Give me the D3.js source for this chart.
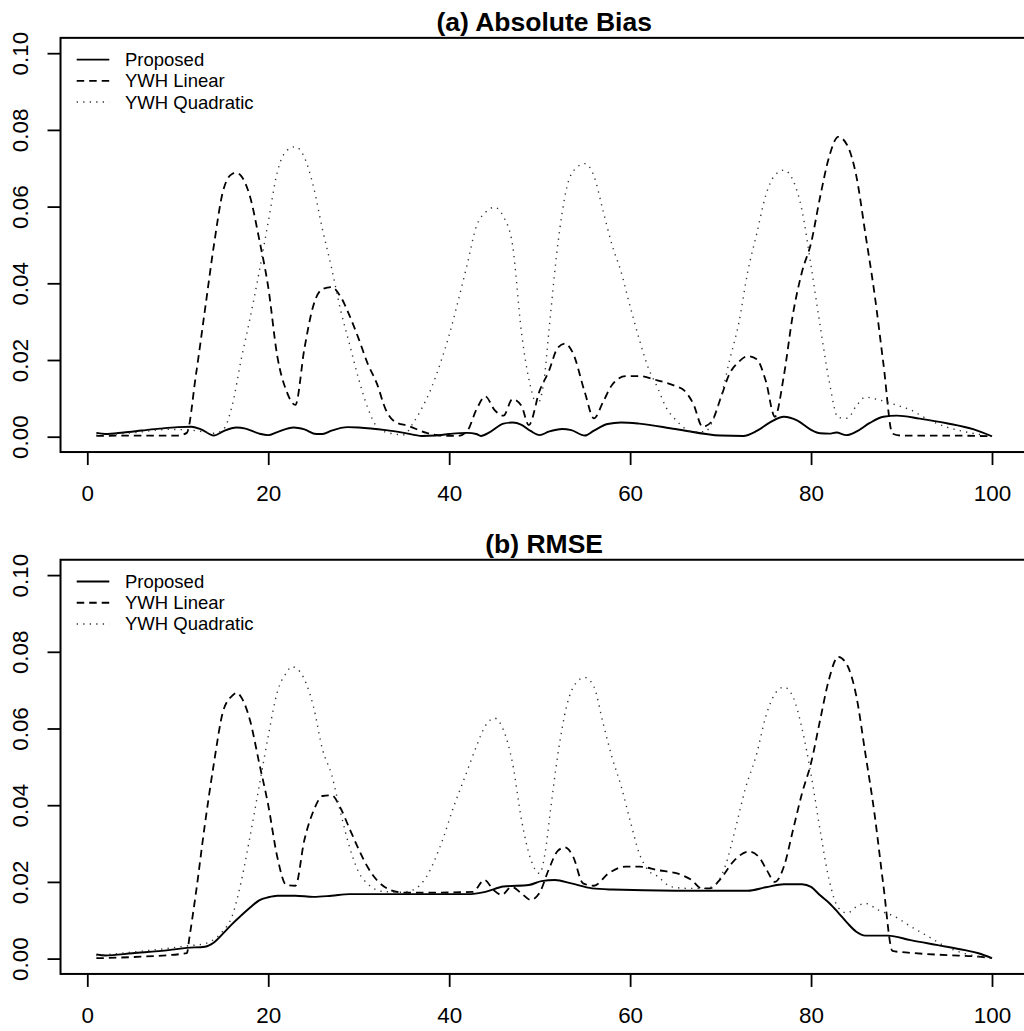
<!DOCTYPE html>
<html>
<head>
<meta charset="utf-8">
<script src="https://cdn.jsdelivr.net/npm/d3@7"></script>
<style>
  html, body { margin: 0; padding: 0; background: #fff; }
  svg { display: block; font-family: "Liberation Sans", Arial, Helvetica, sans-serif; }
</style>
</head>
<body>
<div id="chart"></div>
<script>
// Two-panel comparison: absolute bias and RMSE along the grid index.

const xTicks = [0, 20, 40, 60, 80, 100];
const yTicks = [0, 0.02, 0.04, 0.06, 0.08, 0.10];
const legendLabels = ['Proposed', 'YWH Linear', 'YWH Quadratic'];
const panelTitles = ['(a) Absolute Bias', '(b) RMSE'];

// (a) Absolute bias, [index, value]
const biasProposed = [[1,0.0010],[2,0.0007],[4,0.0011],[6,0.0016],[8,0.0021],[10,0.0025],[11.5,0.0026],[12.5,0.0020],[14,0.0003],[15,0.0014],[16.5,0.0024],[17.5,0.0021],[19,0.0008],[20,0.0004],[21,0.0012],[22.8,0.0024],[24,0.0019],[25.3,0.0007],[26,0.0007],[27,0.0016],[28.8,0.0025],[30,0.0024],[33,0.0017],[35,0.0010],[37,0.0002],[38.5,0.0003],[40,0.0007],[42,0.0010],[43,0.0007],[43.5,0.0002],[44.5,0.0012],[46,0.0034],[47,0.0037],[48,0.0031],[49,0.0015],[50,0.0004],[51,0.0013],[52.5,0.0020],[53.5,0.0017],[55,0.0003],[56,0.0016],[57.5,0.0033],[59,0.0037],[61,0.0034],[65,0.0020],[70,0.0003],[72.5,0.0002],[74,0.0015],[75.5,0.0038],[77,0.0052],[78.5,0.0042],[80,0.0018],[81,0.0009],[82,0.0008],[82.8,0.0011],[83.9,0.0004],[85,0.0013],[86.5,0.0036],[88,0.0052],[89.5,0.0055],[92,0.0047],[95,0.0035],[98,0.0019],[100,0.0001]];
const biasLinear = [[1,0.0002],[5,0.0003],[10,0.0003],[11,0.0010],[12,0.0160],[13,0.0330],[14,0.0500],[15,0.0640],[16,0.0685],[16.5,0.0688],[17,0.0680],[18,0.0625],[19,0.0515],[20,0.0390],[21,0.0210],[22,0.0120],[23,0.0083],[24,0.0230],[25,0.0343],[26,0.0385],[27,0.0390],[28,0.0365],[29,0.0315],[30,0.0255],[31,0.0190],[32,0.0139],[33,0.0070],[34,0.0039],[35.5,0.0028],[37.5,0.0010],[39,0.0003],[41,0.0002],[42,0.0015],[43,0.0070],[44,0.0105],[45,0.0070],[46,0.0055],[47,0.0098],[48,0.0080],[48.8,0.0030],[50,0.0120],[51,0.0170],[52,0.0232],[52.8,0.0243],[53.7,0.0217],[55,0.0115],[56,0.0048],[57,0.0090],[58,0.0135],[59.5,0.0158],[61,0.0158],[63,0.0147],[65,0.0132],[66,0.0120],[67,0.0085],[68,0.0026],[69,0.0039],[70,0.0100],[71,0.0165],[72,0.0195],[73,0.0210],[74,0.0202],[75,0.0145],[76,0.0052],[77,0.0160],[78,0.0320],[79,0.0430],[80,0.0505],[81,0.0625],[82,0.0730],[83,0.0782],[84,0.0760],[85,0.0680],[86,0.0530],[87,0.0375],[88,0.0190],[89,0.0008],[90,0.0003],[95,0.0003],[100,0.0001]];
const biasQuadratic = [[1,0.0004],[5,0.0010],[9,0.0019],[11,0.0018],[12.5,0.0014],[14,0.0009],[15,0.0018],[16,0.0080],[17,0.0200],[18,0.0310],[19,0.0430],[20,0.0560],[21,0.0690],[22,0.0745],[23,0.0756],[24,0.0728],[25,0.0652],[26,0.0540],[27,0.0440],[28,0.0330],[29,0.0240],[30,0.0150],[31,0.0075],[32,0.0026],[33,0.0012],[35,0.0005],[36,0.0035],[37,0.0075],[38,0.0125],[39,0.0190],[40,0.0265],[41,0.0355],[42,0.0450],[43,0.0548],[44,0.0585],[45,0.0598],[46,0.0574],[47,0.0500],[48,0.0270],[49,0.0130],[49.7,0.0083],[50.5,0.0150],[51,0.0270],[52,0.0500],[53,0.0650],[54,0.0700],[55,0.0712],[56,0.0680],[57,0.0590],[58,0.0500],[59,0.0430],[60,0.0340],[61,0.0255],[62,0.0180],[63,0.0130],[64,0.0075],[65,0.0045],[67,0.0013],[68.3,0.0013],[69,0.0035],[70,0.0100],[71,0.0200],[72,0.0295],[73,0.0430],[74,0.0530],[75,0.0630],[76,0.0682],[77,0.0695],[78,0.0669],[79,0.0590],[80,0.0445],[81,0.0290],[82,0.0145],[83,0.0050],[84,0.0048],[85,0.0080],[86,0.0103],[87.5,0.0096],[89.5,0.0082],[91,0.0070],[93,0.0044],[95,0.0025],[97,0.0013],[100,0.0001]];

// (b) RMSE, [index, value]
const rmseProposed = [[1,0.0011],[2,0.0008],[5,0.0014],[9,0.0022],[11,0.0028],[13,0.0031],[14,0.0042],[15,0.0065],[16,0.0090],[17,0.0112],[18,0.0133],[19,0.0152],[20,0.0160],[21,0.0164],[23,0.0164],[25,0.0161],[27,0.0164],[29,0.0168],[35,0.0168],[42,0.0168],[44,0.0174],[46,0.0188],[48.8,0.0192],[50.2,0.0202],[51.7,0.0205],[53.5,0.0196],[55.8,0.0183],[58,0.0180],[65,0.0177],[73,0.0177],[75,0.0186],[77,0.0194],[79,0.0194],[80,0.0187],[81,0.0165],[82,0.0145],[83,0.0120],[84,0.0093],[85,0.0070],[86,0.0060],[88.5,0.0060],[91,0.0048],[94,0.0035],[97,0.0022],[98.5,0.0014],[100,0.0001]];
const rmseLinear = [[1,0.0001],[5,0.0004],[11,0.0014],[11.3,0.0057],[12,0.0170],[13,0.0350],[14,0.0510],[15,0.0644],[16,0.0685],[16.5,0.0693],[17,0.0682],[18,0.0620],[19,0.0510],[20,0.0400],[21,0.0265],[22,0.0192],[23,0.0190],[24,0.0310],[25,0.0385],[26,0.0424],[27,0.0426],[28,0.0392],[29,0.0338],[30,0.0285],[31,0.0238],[32,0.0205],[33.5,0.0179],[35,0.0172],[38,0.0172],[42.6,0.0174],[43.9,0.0205],[44.9,0.0179],[45.8,0.0166],[46.9,0.0187],[48,0.0170],[49,0.0153],[50,0.0172],[51,0.0232],[52,0.0281],[52.8,0.0290],[53.7,0.0266],[54.8,0.0196],[56,0.0190],[57.6,0.0222],[59.5,0.0240],[61,0.0240],[63,0.0231],[65.7,0.0218],[66.8,0.0205],[67.9,0.0183],[68.8,0.0183],[70,0.0208],[71.4,0.0253],[73.1,0.0279],[74.2,0.0266],[75.1,0.0231],[76,0.0200],[77,0.0240],[78,0.0335],[79,0.0431],[80,0.0510],[81,0.0622],[82,0.0730],[83,0.0787],[84,0.0765],[85,0.0685],[86,0.0535],[87,0.0380],[88,0.0190],[89,0.0020],[91,0.0015],[95,0.0009],[98.5,0.0005],[100,0.0001]];
const rmseQuadratic = [[1,0.0008],[5,0.0017],[9,0.0027],[11,0.0033],[13,0.0039],[14,0.0050],[15,0.0072],[16,0.0110],[17,0.0200],[18,0.0320],[19,0.0450],[20,0.0580],[21,0.0695],[22,0.0745],[22.6,0.0761],[23.5,0.0748],[25,0.0657],[26,0.0545],[27,0.0480],[28,0.0380],[29,0.0290],[30,0.0225],[31,0.0195],[32.7,0.0175],[34.6,0.0173],[36,0.0179],[37.5,0.0214],[39,0.0292],[40.5,0.0396],[42,0.0490],[43,0.0553],[44,0.0607],[45,0.0627],[46,0.0596],[47,0.0510],[48,0.0361],[49,0.0260],[50,0.0222],[50.6,0.0275],[51.2,0.0387],[52,0.0530],[53,0.0660],[54,0.0718],[55,0.0733],[56,0.0709],[57,0.0615],[58,0.0525],[59,0.0450],[60,0.0360],[61,0.0275],[62,0.0230],[63,0.0215],[64.6,0.0187],[66.5,0.0183],[68.3,0.0183],[69.4,0.0192],[70.5,0.0240],[71.6,0.0335],[72.7,0.0440],[74,0.0535],[75,0.0632],[76,0.0690],[77,0.0708],[78,0.0683],[79,0.0600],[80,0.0480],[81,0.0335],[82,0.0205],[83,0.0133],[84,0.0119],[85,0.0135],[86,0.0144],[87.4,0.0127],[89.3,0.0109],[91,0.0084],[93,0.0057],[95,0.0030],[97,0.0013],[100,0.0001]];

const W = 1024, H = 1031;
const BASE_FONT = 22.4;
// line styles: solid, dashed, dotted (R lty 1, 2, 3)
const STYLES = [
  { dash: null, width: 1.9, color: '#000' },
  { dash: '7.5,5', width: 1.8, color: '#000' },
  { dash: '1.3,5.2', width: 1.4, color: '#333' },
];

const svg = d3.select('#chart').append('svg')
  .attr('width', W).attr('height', H).attr('viewBox', `0 0 ${W} ${H}`);

// shared x scale, R-style 4% extension around 1..100
const x = d3.scaleLinear().domain([0, 100]).range([87.3, 992]);
const xLo = 1 - 0.04 * 99, xHi = 100 + 0.04 * 99;

function drawPanel(title, series, zeroY) {
  const y = d3.scaleLinear().domain([0, 0.1]).range([zeroY, zeroY - 383.5]);
  const yLo = -0.004, yHi = 0.104;
  const g = svg.append('g');

  const clipId = 'clip' + Math.round(zeroY);
  g.append('clipPath').attr('id', clipId).append('rect')
    .attr('x', x(xLo)).attr('y', y(yHi))
    .attr('width', x(xHi) - x(xLo)).attr('height', y(yLo) - y(yHi));

  const line = d3.line().x((d) => x(d[0])).y((d) => y(d[1])).curve(d3.curveMonotoneX);
  series.forEach((s, i) => {
    g.append('path').datum(s)
      .attr('clip-path', `url(#${clipId})`)
      .attr('fill', 'none').attr('stroke', STYLES[i].color)
      .attr('stroke-width', STYLES[i].width)
      .attr('stroke-dasharray', STYLES[i].dash)
      .attr('stroke-linejoin', 'round')
      .attr('d', line);
  });

  // box
  g.append('rect')
    .attr('x', x(xLo)).attr('y', y(yHi))
    .attr('width', x(xHi) - x(xLo)).attr('height', y(yLo) - y(yHi))
    .attr('fill', 'none').attr('stroke', '#000').attr('stroke-width', 2);

  // x axis
  g.append('g').attr('transform', `translate(0,${y(yLo)})`)
    .call(d3.axisBottom(x).tickValues(xTicks).tickSize(13).tickPadding(20).tickFormat(d3.format('d')))
    .call((sel) => {
      sel.select('.domain').remove();
      sel.selectAll('line').attr('stroke', '#000').attr('stroke-width', 1.8);
      sel.selectAll('text').attr('fill', '#000')
        .attr('font-family', '"Liberation Sans", Arial, sans-serif').attr('font-size', BASE_FONT);
    });

  // y axis, labels parallel to the axis
  g.append('g').attr('transform', `translate(${x(xLo)},0)`)
    .call(d3.axisLeft(y).tickValues(yTicks).tickSize(13).tickFormat(d3.format('.2f')))
    .call((sel) => {
      sel.select('.domain').remove();
      sel.selectAll('line').attr('stroke', '#000').attr('stroke-width', 1.8);
      sel.selectAll('text').attr('fill', '#000')
        .attr('font-family', '"Liberation Sans", Arial, sans-serif').attr('font-size', BASE_FONT)
        .attr('transform', 'rotate(-90)')
        .attr('x', 0).attr('y', -32.3).attr('dy', 0)
        .attr('text-anchor', 'middle');
    });

  // title
  g.append('text')
    .attr('x', (x(xLo) + x(xHi)) / 2).attr('y', y(yHi) - 7)
    .attr('text-anchor', 'middle').attr('font-weight', 'bold')
    .attr('font-size', 26.5).text(title);

  // legend, top-left, no frame
  const top = y(yHi) + 21.8;
  legendLabels.forEach((lab, i) => {
    const ly = top + i * 21.2;
    g.append('line').attr('x1', 76.7).attr('x2', 109.3).attr('y1', ly).attr('y2', ly)
      .attr('stroke', STYLES[i].color).attr('stroke-width', STYLES[i].width)
      .attr('stroke-dasharray', STYLES[i].dash);
    g.append('text').attr('x', 125).attr('y', ly).attr('dy', '0.35em')
      .attr('font-size', 18.5).attr('fill', '#000').text(lab);
  });
}

drawPanel(panelTitles[0], [biasProposed, biasLinear, biasQuadratic], 436.7);
drawPanel(panelTitles[1], [rmseProposed, rmseLinear, rmseQuadratic], 958.6);
</script>
</body>
</html>
